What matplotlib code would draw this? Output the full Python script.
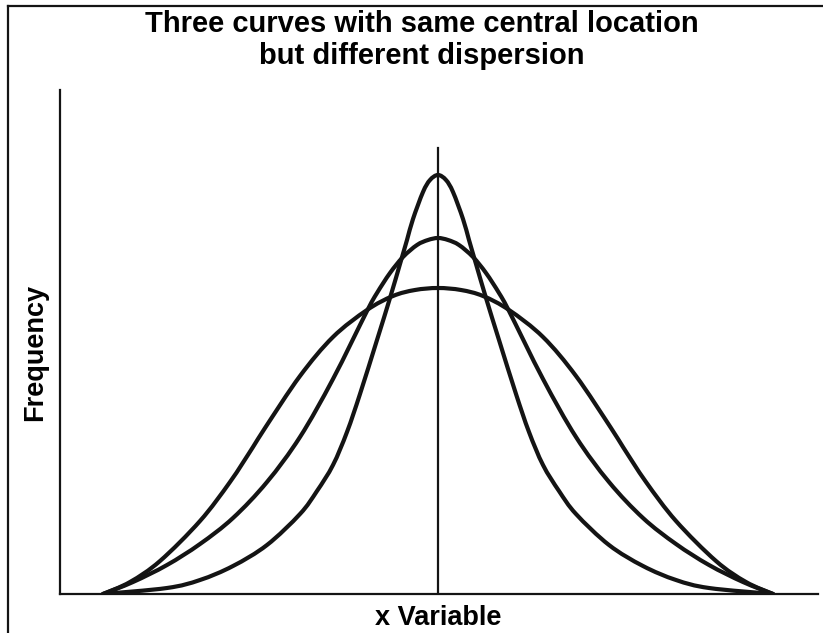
import matplotlib.pyplot as plt
from matplotlib.lines import Line2D
from matplotlib.path import Path
from matplotlib.patches import PathPatch
import numpy as np

plt.rcParams['font.family'] = ['Liberation Sans', 'DejaVu Sans']

# left half of each curve (curves are symmetric about the centre line)
# x: offset from centre, y: height above baseline
tall_x = [-335, -271, -238, -205, -171, -138, -121, -105, -91, -78, -61, -48, -38, -31, -25, -15, -8, 0]
tall_y = [0, 6, 14, 28, 49, 80, 103, 129, 162, 200, 254, 296, 330, 354, 375, 402, 414, 419]

mid_x = [-335, -305, -271, -238, -205, -171, -138, -105, -71, -61, -48, -35, -21, -10, 0]
mid_y = [0, 12, 29, 50, 76, 112, 157, 215, 283, 301, 321, 337, 349, 354, 356]

wide_x = [-335, -308, -278, -238, -208, -185, -173, -138, -105, -71, -45, -23, 0]
wide_y = [0, 12, 33, 73, 112, 147, 166, 218, 257, 284, 298, 304, 306]

center_top = 446

title = "Three curves with same central location\nbut different dispersion"
xlabel = "x Variable"
ylabel = "Frequency"


def mirror(xs, ys):
    xs = np.array(xs, dtype=float)
    ys = np.array(ys, dtype=float)
    full_x = np.concatenate([xs, -xs[::-1][1:]])
    full_y = np.concatenate([ys, ys[::-1][1:]])
    return np.column_stack([full_x, full_y])


def smooth_path(pts):
    # catmull-rom through the read points, drawn as cubic bezier segments
    verts = [pts[0]]
    codes = [Path.MOVETO]
    n = len(pts)
    for i in range(n - 1):
        p0 = pts[max(i - 1, 0)]
        p1 = pts[i]
        p2 = pts[i + 1]
        p3 = pts[min(i + 2, n - 1)]
        c1 = p1 + (p2 - p0) / 6.0
        c2 = p2 - (p3 - p1) / 6.0
        verts += [c1, c2, p2]
        codes += [Path.CURVE4] * 3
    return Path(np.array(verts), codes)


W, H = 823, 633
fig = plt.figure(figsize=(W / 100, H / 100), dpi=100)
ax = fig.add_axes([60 / W, (H - 594) / H, (818 - 60) / W, (594 - 90) / H])

col = '#141414'
for xs, ys in [(tall_x, tall_y), (mid_x, mid_y), (wide_x, wide_y)]:
    p = smooth_path(mirror(xs, ys))
    ax.add_patch(PathPatch(p, fill=False, edgecolor=col, lw=3.0,
                           capstyle='round', joinstyle='round'))

ax.plot([0, 0], [0, center_top], color=col, lw=1.6)

ax.set_xlim(-378, 380)
ax.set_ylim(0, 504)
ax.set_xticks([])
ax.set_yticks([])
for s in ['top', 'right']:
    ax.spines[s].set_visible(False)
for s in ['left', 'bottom']:
    ax.spines[s].set_linewidth(1.6)
    ax.spines[s].set_color(col)

fig.text(438 / W, 1 - 618 / H, xlabel, ha='center', va='center', fontsize=19.5,
         fontweight='bold')
fig.text(35 / W, 1 - 352 / H, ylabel, ha='center', va='center', fontsize=19.5,
         fontweight='bold', rotation=90)

fig.text(422 / W, 1 - 40 / H, title, ha='center', va='center', fontsize=21,
         fontweight='bold', linespacing=1.2)

# frame lines at top and left edge of the image
fig.add_artist(Line2D([8 / W, 1], [1 - 6 / H, 1 - 6 / H], color=col, lw=1.6))
fig.add_artist(Line2D([8 / W, 8 / W], [0, 1 - 6 / H], color=col, lw=1.6))

fig.savefig('out.png', dpi=100)
